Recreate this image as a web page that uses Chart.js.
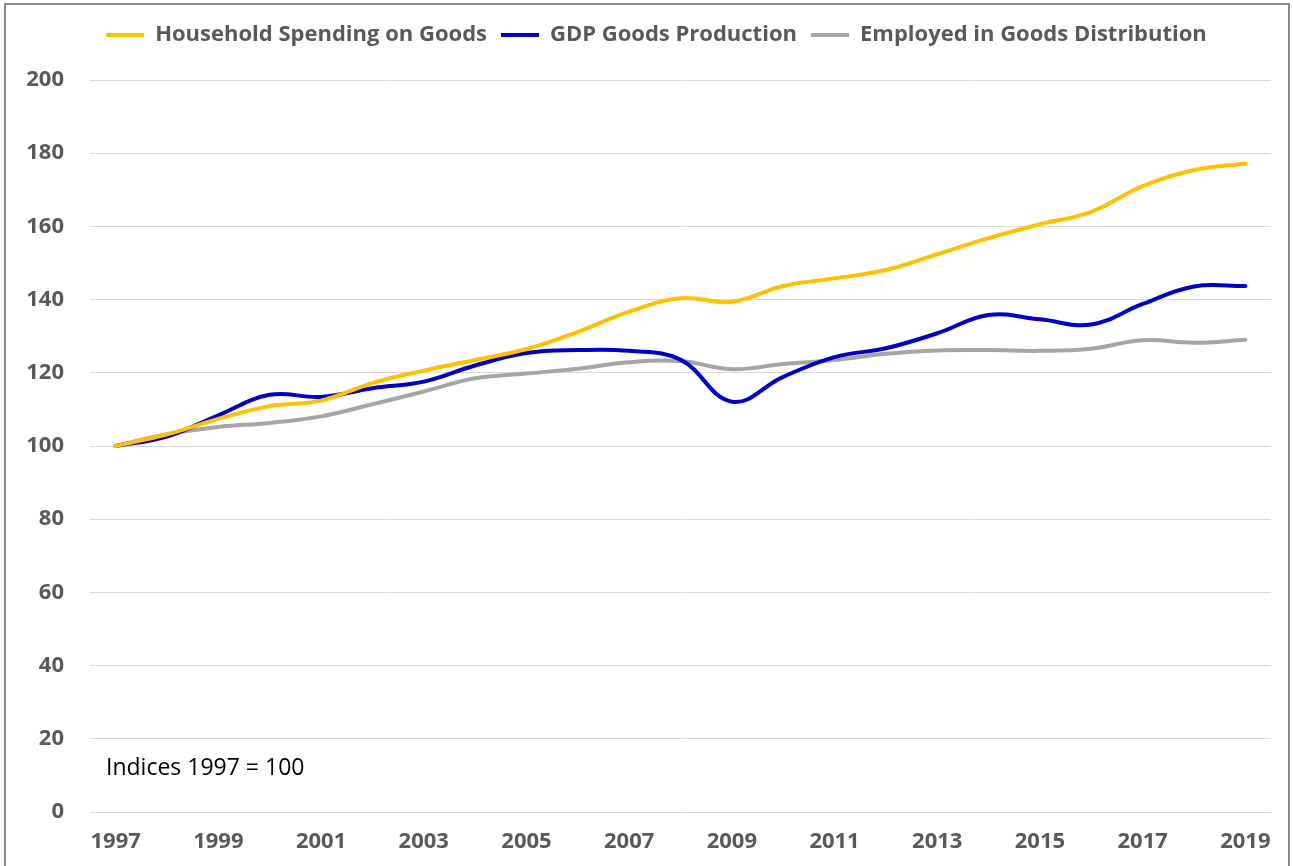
<!DOCTYPE html>
<html>
<head>
<meta charset="utf-8">
<script src="https://cdn.jsdelivr.net/npm/chart.js@4.4.0/dist/chart.umd.min.js"></script>
<style>
  html, body { margin: 0; padding: 0; background: #fff; }
  #wrap { width: 1293px; height: 866px; }
</style>
</head>
<body>
<div id="wrap"><canvas id="goodsChart" width="1293" height="866"></canvas></div>
<script>
// Data (indices, 1997 = 100)
const years = ['1997', '1998', '1999', '2000', '2001', '2002', '2003', '2004', '2005', '2006', '2007', '2008',
  '2009', '2010', '2011', '2012', '2013', '2014', '2015', '2016', '2017', '2018', '2019'];
const householdSpending = [100, 103.2, 107.4, 110.9, 112.4, 117.2, 120.6, 123.5, 126.5, 131.2, 136.7, 140.4,
  139.4, 143.7, 145.8, 148.1, 152.4, 156.8, 160.6, 164.0, 171.0, 175.4, 177.2];
const gdpGoods = [100, 102.6, 108.4, 114.0, 113.4, 115.8, 117.6, 122.0, 125.4, 126.2, 126.0, 123.6,
  112.1, 118.9, 124.3, 126.7, 130.8, 135.8, 134.6, 133.2, 138.8, 143.6, 143.7];
const employedDistribution = [100, 103.2, 105.2, 106.3, 108.1, 111.4, 114.9, 118.5, 119.8, 121.1, 122.9, 123.2,
  121.0, 122.4, 123.5, 125.2, 126.1, 126.2, 126.0, 126.6, 128.9, 128.2, 129.0];
const yTicks = [0, 20, 40, 60, 80, 100, 120, 140, 160, 180, 200];

const labelGrey = '#595959';
const tickFont = { family: 'Open Sans', size: 22, weight: 'bold' };

// frame around the chart + the "Indices" note
const framePlugin = {
  id: 'frame',
  beforeDraw(chart) {
    const ctx = chart.ctx;
    ctx.save();
    ctx.fillStyle = '#fff';
    ctx.fillRect(0, 0, chart.width, chart.height);
    ctx.strokeStyle = '#8a8a8a';
    ctx.lineWidth = 2;
    ctx.strokeRect(5, 4, chart.width - 9, chart.height + 20);
    ctx.restore();
  },
  afterDraw(chart) {
    const ctx = chart.ctx;
    const y = chart.scales.y.getPixelForValue(12);
    ctx.save();
    ctx.font = '23px "Open Sans"';
    ctx.fillStyle = '#000';
    ctx.textBaseline = 'middle';
    ctx.fillText('Indices 1997 = 100', chart.chartArea.left + 16, y);
    ctx.restore();
  }
};

// legend block height so the plot starts at the right place,
// and centre the legend over the whole frame rather than the padded box
const legendSpace = {
  id: 'legendSpace',
  beforeInit(chart) {
    const fit = chart.legend.fit;
    chart.legend.fit = function () {
      fit.bind(chart.legend)();
      this.height = 70;
    };
  },
  afterLayout(chart) {
    chart.legend.left += 21;
    chart.legend.right += 21;
  }
};

const ctx = document.getElementById('goodsChart').getContext('2d');
new Chart(ctx, {
  type: 'line',
  data: {
    labels: years,
    datasets: [
      { label: 'Household Spending on Goods', data: householdSpending, borderColor: '#FFC000', backgroundColor: '#FFC000' },
      { label: 'GDP Goods Production', data: gdpGoods, borderColor: '#0000C8', backgroundColor: '#0000C8' },
      { label: 'Employed in Goods Distribution', data: employedDistribution, borderColor: '#A5A5A5', backgroundColor: '#A5A5A5' }
    ]
  },
  options: {
    responsive: false,
    animation: false,
    layout: { padding: { left: 0, right: 22, top: 10, bottom: 0 } },
    elements: {
      line: { borderWidth: 4, tension: 0.4, borderCapStyle: 'round', fill: false },
      point: { radius: 0, hoverRadius: 0 }
    },
    plugins: {
      legend: {
        position: 'top',
        labels: {
          boxWidth: 38,
          boxHeight: 4,
          padding: 14,
          color: labelGrey,
          font: { family: 'Open Sans', size: 22, weight: 'bold' },
          generateLabels(chart) {
            return Chart.defaults.plugins.legend.labels.generateLabels(chart)
              .map(l => Object.assign(l, { lineWidth: 0 }));
          }
        }
      },
      tooltip: { enabled: false }
    },
    scales: {
      x: {
        offset: true,
        grid: { display: false },
        border: { display: false },
        ticks: {
          autoSkip: false,
          maxRotation: 0,
          padding: 9,
          color: labelGrey,
          font: tickFont,
          callback: function (val, i) { return i % 2 === 0 ? this.getLabelForValue(val) : ''; }
        },
        afterFit(scale) { scale.height = 54; }
      },
      y: {
        min: yTicks[0],
        max: yTicks[yTicks.length - 1],
        grid: { color: '#D9D9D9', lineWidth: 1, drawTicks: false },
        border: { display: false },
        ticks: {
          stepSize: 20,
          padding: 26,
          color: labelGrey,
          font: tickFont
        },
        afterFit(scale) { scale.width = 90; }
      }
    }
  },
  plugins: [framePlugin, legendSpace]
});
</script>
</body>
</html>
